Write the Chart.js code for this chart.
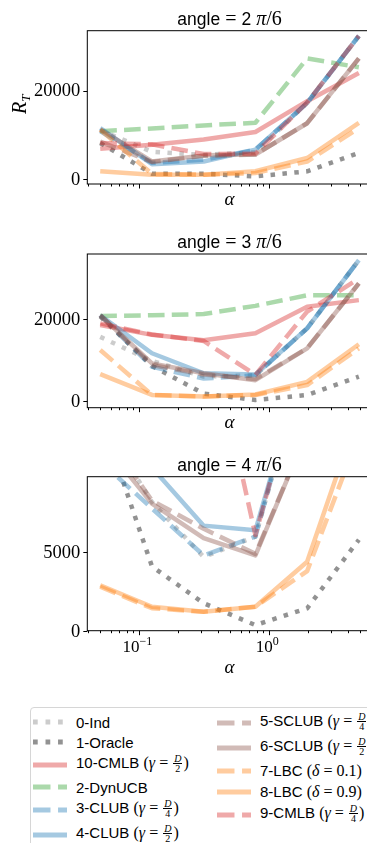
<!DOCTYPE html>
<html lang="en">
<head>
  <meta charset="UTF-8"/>
  <title>R_T vs alpha</title>
  <script src="https://cdn.jsdelivr.net/npm/chart.js"></script>
  <style>
    html, body { margin: 0; padding: 0; background: #fff; }
    body { width: 367px; height: 843px; overflow: hidden; position: relative; }
    canvas { position: absolute; left: 0; }
    #c1 { top: 0; }
    #c2 { top: 215px; }
    #c3 { top: 440px; }
    .legend {
      position: absolute; left: 30px; top: 707px; width: 360px; height: 160px;
      border: 1px solid #d6d6d6; border-radius: 4px; box-sizing: border-box;
      font: 15px "Liberation Sans", Arial, sans-serif; color: #000;
    }
    .col { position: absolute; top: 0; display: flex; flex-direction: column; }
    .col.left { left: 2px; padding-top: 4px; }
    .col.right { left: 186px; padding-top: 2px; }
    .row { display: flex; align-items: center; height: 20px; white-space: nowrap; }
    .row.frac { height: 25px; }
    .row.delta { height: 21px; }
    .row svg { width: 34px; height: 8px; margin-right: 9px; flex: none; }
    .m { font-family: "Liberation Serif", "DejaVu Serif", serif; font-size: 16px; }
    .m i { font-style: italic; }
    .fr { display: inline-flex; flex-direction: column; align-items: center; vertical-align: middle;
          font-size: 10px; line-height: 9.5px; margin: 0 1px; position: relative; top: -1px; }
    .fr span:first-child { border-bottom: 0.8px solid #000; padding: 0 1px; font-style: italic; }
  </style>
</head>
<body>
  <canvas id="c1" width="380" height="215"></canvas>
  <canvas id="c2" width="380" height="225"></canvas>
  <canvas id="c3" width="380" height="250"></canvas>
  <div class="legend" id="legend"></div>
  <script>
    // alpha values on the x axis (log scale)
    const alphaValues = [0.05, 0.125, 0.3125, 0.78125, 1.953125, 4.8828125];

    const seriesNames = ["0-Ind", "1-Oracle", "10-CMLB", "2-DynUCB", "3-CLUB", "4-CLUB",
                         "5-SCLUB", "6-SCLUB", "7-LBC", "8-LBC", "9-CMLB"];
    const seriesMath = ["", "", "(γ = D/2)", "", "(γ = D/4)", "(γ = D/2)",
                        "(γ = D/4)", "(γ = D/2)", "(δ = 0.1)", "(δ = 0.9)", "(γ = D/4)"];

    // angle = 2 pi/6
    const ind1          = [11000, 6100, 5400, 6000, 17200, 32400];
    const oracle1       = [8100, 1140, 1140, 530, 1670, 5840];
    const cmlbHalf1     = [6800, 7700, 8900, 10600, 17600, 24000];
    const dynucb1       = [10800, 11400, 12100, 12700, 27300, 25300];
    const clubQuarter1  = [10800, 3600, 4300, 6600, 17200, 32400];
    const clubHalf1     = [11500, 3300, 3900, 6600, 17200, 32400];
    const sclubQuarter1 = [8400, 3800, 5200, 5500, 12600, 27300];
    const sclubHalf1    = [11200, 3900, 5300, 5500, 12600, 27300];
    const lbcLow1       = [11100, 1100, 900, 1300, 3900, 11500];
    const lbcHigh1      = [1700, 900, 900, 1700, 4700, 12700];
    const cmlbQuarter1  = [8100, 7800, 5600, 5700, 17300, 32400];

    // angle = 3 pi/6
    const ind2          = [15700, 9800, 6000, 6300, 17800, 34500];
    const oracle2       = [20700, 8600, 1800, 250, 1470, 5950];
    const cmlbHalf2     = [18600, 16200, 14900, 16600, 23100, 24700];
    const dynucb2       = [20800, 21000, 21300, 23300, 25900, 25900];
    const clubQuarter2  = [21000, 8400, 5500, 6300, 17800, 34500];
    const clubHalf2     = [21000, 11700, 6800, 6500, 17800, 34500];
    const sclubQuarter2 = [21000, 8800, 6500, 5400, 12900, 28800];
    const sclubHalf2    = [21000, 9200, 6800, 5100, 12900, 28800];
    const lbcLow2       = [12500, 1500, 1100, 1470, 3900, 12900];
    const lbcHigh2      = [6600, 1500, 1100, 1600, 4700, 13900];
    const cmlbQuarter2  = [19000, 16300, 14700, 6400, 21900, 30000];

    // angle = 4 pi/6
    const ind3          = [13500, 8200, 4700, 6000, 17800, 34000];
    const oracle3       = [13800, 4100, 1750, 360, 1430, 5800];
    const cmlbHalf3     = [19000, 17000, 16000, 17000, 23000, 25000];
    const dynucb3       = [21000, 21500, 22000, 24000, 26500, 27000];
    const clubQuarter3  = [10800, 7800, 4800, 6000, 18000, 34000];
    const clubHalf3     = [20000, 10400, 6700, 6400, 17800, 34000];
    const sclubQuarter3 = [13000, 8300, 6500, 4900, 12700, 28000];
    const sclubHalf3    = [12200, 8100, 5900, 4800, 12700, 28000];
    const lbcLow3       = [2800, 1430, 1210, 1530, 3800, 12500];
    const lbcHigh3      = [2900, 1530, 1210, 1530, 4400, 14000];
    const cmlbQuarter3  = [22000, 21000, 20900, 6100, 18000, 34000];

    const angleLabels = ["2", "3", "4"];
    const yTicks1 = [0, 20000];
    const yTicks2 = [0, 20000];
    const yTicks3 = [0, 5000];
    const xMajorTicks = [0.1, 1];
    const xMinorTicks = [0.04, 0.05, 0.06, 0.07, 0.08, 0.09, 0.2, 0.3, 0.4, 0.5, 0.6, 0.7, 0.8, 0.9, 2, 3, 4, 5, 6];
    const xTickExponents = ["−1", "0"];

    // styles
    const seriesColors = [
      "rgba(127,127,127,0.4)", "rgba(110,110,110,0.75)", "rgba(214,39,40,0.4)", "rgba(44,160,44,0.4)",
      "rgba(31,119,180,0.4)", "rgba(31,119,180,0.4)", "rgba(140,86,75,0.4)", "rgba(140,86,75,0.4)",
      "rgba(255,127,14,0.4)", "rgba(255,127,14,0.4)", "rgba(214,39,40,0.4)"
    ];
    const seriesStyles = ["dot", "dot", "solid", "dash", "dash", "solid", "dash", "solid", "dash", "solid", "dash"];
    const LW = 4.5;
    const dashes = { solid: [], dash: [3.7 * LW, 1.6 * LW], dot: [1 * LW, 1.65 * LW] };

    const SERIF = '"Liberation Serif", "DejaVu Serif", serif';
    const SANS = '"Liberation Sans", Arial, sans-serif';

    const xLogMin = Math.pow(10, -1.4005);
    const xLogMax = Math.pow(10, 0.7882);

    function makeDatasets(rows) {
      return seriesNames.map((name, i) => ({
        label: name,
        data: alphaValues.map((a, k) => ({ x: a, y: rows[i][k] })),
        borderColor: seriesColors[i],
        borderWidth: LW,
        borderDash: dashes[seriesStyles[i]],
        borderCapStyle: "butt",
        borderJoinStyle: "round",
        pointRadius: 0,
        tension: 0,
        fill: false,
        order: seriesNames.length - i
      }));
    }

    function drawPieces(ctx, pieces, cx, baseline) {
      const w = pieces.map(p => { ctx.font = p.font; return ctx.measureText(p.text).width; });
      let x = cx - w.reduce((s, v) => s + v, 0) / 2;
      pieces.forEach((p, i) => {
        ctx.font = p.font;
        ctx.fillText(p.text, x, baseline + (p.dy || 0));
        x += w[i];
      });
    }

    const decor = {
      id: "decor",
      afterDraw(chart, args, o) {
        const { ctx, chartArea: a, scales: { x, y } } = chart;
        ctx.save();
        ctx.fillStyle = "#000";
        ctx.strokeStyle = "#000";
        ctx.lineWidth = 1;
        ctx.strokeRect(a.left, a.top, a.right - a.left, a.bottom - a.top);

        ctx.beginPath();
        xMinorTicks.forEach(v => {
          const px = Math.round(x.getPixelForValue(v)) + 0.5;
          ctx.moveTo(px, a.bottom); ctx.lineTo(px, a.bottom + 2.5);
        });
        xMajorTicks.forEach(v => {
          const px = Math.round(x.getPixelForValue(v)) + 0.5;
          ctx.moveTo(px, a.bottom); ctx.lineTo(px, a.bottom + 4.5);
        });
        o.yTicks.forEach(v => {
          const py = Math.round(y.getPixelForValue(v)) + 0.5;
          ctx.moveTo(a.left, py); ctx.lineTo(a.left - 4, py);
        });
        ctx.stroke();

        ctx.textAlign = "right";
        ctx.textBaseline = "middle";
        ctx.font = "18.5px " + SERIF;
        o.yTicks.forEach(v => ctx.fillText(String(v), a.left - 7, y.getPixelForValue(v) + 1));

        ctx.textAlign = "left";
        ctx.textBaseline = "alphabetic";
        if (o.xLabels) {
          xMajorTicks.forEach((v, i) => {
            drawPieces(ctx, [
              { text: "10", font: "17px " + SERIF },
              { text: xTickExponents[i], font: "12px " + SERIF, dy: -7 }
            ], x.getPixelForValue(v) - 2, a.bottom + 21);
          });
        }
        const cx = (a.left + a.right) / 2;
        drawPieces(ctx, [{ text: "α", font: "italic 19px " + SERIF }], cx, a.bottom + o.alphaGap);

        drawPieces(ctx, [
          { text: "angle", font: "17.5px " + SANS },
          { text: " = ", font: "20px " + SERIF },
          { text: o.angle, font: "17.5px " + SANS },
          { text: " ", font: "20px " + SERIF },
          { text: "π", font: "italic 20px " + SERIF },
          { text: "/6", font: "20px " + SERIF }
        ], cx, a.top - 5.7);

        if (o.yLabel) {
          ctx.save();
          ctx.translate(26, (a.top + a.bottom) / 2 - 3);
          ctx.rotate(-Math.PI / 2);
          drawPieces(ctx, [
            { text: "R", font: "italic 20px " + SERIF },
            { text: "T", font: "italic 13px " + SERIF, dy: 4 }
          ], 0, 0);
          ctx.restore();
        }
        ctx.restore();
      }
    };

    function makeChart(id, rows, yMin, yMax, pad, opts) {
      new Chart(document.getElementById(id), {
        type: "line",
        data: { datasets: makeDatasets(rows) },
        options: {
          responsive: false,
          animation: false,
          devicePixelRatio: 1,
          layout: { padding: { left: 87.3, right: 8.2, top: pad[0], bottom: pad[1] } },
          plugins: { legend: { display: false }, tooltip: { enabled: false }, decor: opts },
          scales: {
            x: { type: "logarithmic", min: xLogMin, max: xLogMax, display: false },
            y: { type: "linear", min: yMin, max: yMax, display: false }
          }
        },
        plugins: [decor]
      });
    }

    makeChart("c1",
      [ind1, oracle1, cmlbHalf1, dynucb1, clubQuarter1, clubHalf1, sclubQuarter1, sclubHalf1, lbcLow1, lbcHigh1, cmlbQuarter1],
      -1200, 33600, [30.7, 31], { yTicks: yTicks1, angle: angleLabels[0], yLabel: true, xLabels: false, alphaGap: 21 });
    makeChart("c2",
      [ind2, oracle2, cmlbHalf2, dynucb2, clubQuarter2, clubHalf2, sclubQuarter2, sclubHalf2, lbcLow2, lbcHigh2, cmlbQuarter2],
      -1640, 36000, [39, 32.3], { yTicks: yTicks2, angle: angleLabels[1], yLabel: false, xLabels: false, alphaGap: 20.5 });
    makeChart("c3",
      [ind3, oracle3, cmlbHalf3, dynucb3, clubQuarter3, clubHalf3, sclubQuarter3, sclubHalf3, lbcLow3, lbcHigh3, cmlbQuarter3],
      0, 9820, [36.7, 59.3], { yTicks: yTicks3, angle: angleLabels[2], yLabel: false, xLabels: true, alphaGap: 42.5 });

    // legend (two columns, sorted as in the figure)
    function mathHtml(s) {
      let m = s.match(/^\((.) = D\/(\d)\)$/);
      if (m) return ` <span class="m">(<i>${m[1]}</i> = <span class="fr"><span>D</span><span>${m[2]}</span></span>)</span>`;
      m = s.match(/^\((.) = ([\d.]+)\)$/);
      if (m) return ` <span class="m">(<i>${m[1]}</i> = ${m[2]})</span>`;
      return "";
    }
    function sampleSvg(i) {
      const d = dashes[seriesStyles[i]].map(v => v * 1.05).join(" ");
      return `<svg viewBox="0 0 34 8"><line x1="0" y1="4" x2="34" y2="4" stroke="${seriesColors[i]}" stroke-width="5"` +
             (d ? ` stroke-dasharray="${d}"` : "") + `/></svg>`;
    }
    const legend = document.getElementById("legend");
    const cols = [document.createElement("div"), document.createElement("div")];
    cols[0].className = "col left";
    cols[1].className = "col right";
    seriesNames.forEach((name, i) => {
      const row = document.createElement("div");
      const math = seriesMath[i];
      row.className = "row" + (math.includes("D/") ? " frac" : math ? " delta" : "");
      row.innerHTML = sampleSvg(i) + `<span>${name}${mathHtml(math)}</span>`;
      cols[i < 6 ? 0 : 1].appendChild(row);
    });
    cols.forEach(c => legend.appendChild(c));
  </script>
</body>
</html>
